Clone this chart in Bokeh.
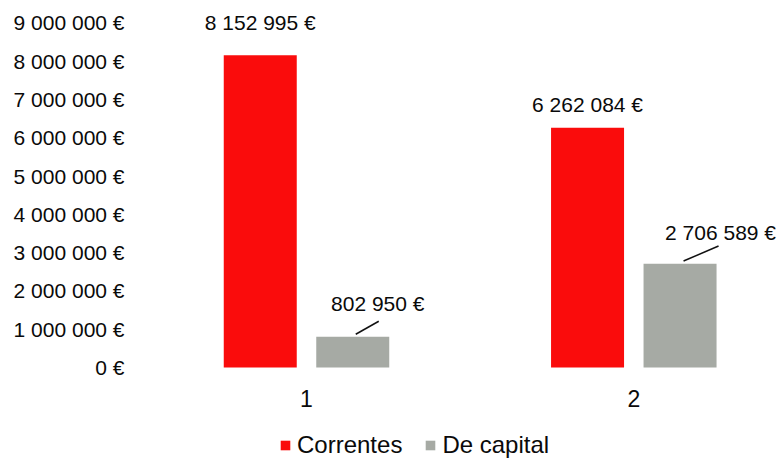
from bokeh.plotting import figure
from bokeh.models import FixedTicker, Range1d, ColumnDataSource, Legend, LegendItem
from bokeh.core.properties import value
from bokeh.embed import file_html
from bokeh.resources import INLINE

# ---- data ----
categories = ["1", "2"]
correntes = [8152995, 6262084]
de_capital = [802950, 2706589]
series_names = ["Correntes", "De capital"]
y_ticks = [0, 1000000, 2000000, 3000000, 4000000, 5000000, 6000000, 7000000, 8000000, 9000000]
y_tick_labels = ["0 €", "1 000 000 €", "2 000 000 €", "3 000 000 €", "4 000 000 €",
                 "5 000 000 €", "6 000 000 €", "7 000 000 €", "8 000 000 €", "9 000 000 €"]

# ---- style / layout ----
FONT = "Liberation Sans"
RED = "#FA0C0C"
GRAY = "#A6AAA4"
W, H = 779, 459
MB_LEFT, MB_RIGHT, MB_TOP, MB_BOTTOM = 140, 0, 12, 0
ZERO_PX_FROM_TOP = 355.0  # zero line distance from frame top
PX_PER_X = 327.3          # pixels per category step
PX_PER_Y = 38.3 / 1e6     # pixels per euro
FIRST_CENTER_PX = 166.0   # first category centre from frame left
frame_w = W - MB_LEFT - MB_RIGHT
frame_h = H - MB_TOP - MB_BOTTOM
x_start = 1 - FIRST_CENTER_PX / PX_PER_X
x_end = x_start + frame_w / PX_PER_X
y_end = ZERO_PX_FROM_TOP / PX_PER_Y
y_start = -(frame_h - ZERO_PX_FROM_TOP) / PX_PER_Y

BAR_W = 73 / PX_PER_X
OFFSET = 46.25 / PX_PER_X

def fmt(v):
    return f"{v:,}".replace(",", " ") + " €"

xs = [i + 1 for i in range(len(categories))]

p = figure(width=W, height=H, output_backend="svg", toolbar_location=None,
           x_range=Range1d(x_start, x_end), y_range=Range1d(y_start, y_end),
           min_border_left=MB_LEFT, min_border_right=MB_RIGHT,
           min_border_top=MB_TOP, min_border_bottom=MB_BOTTOM, x_axis_location=None)
p.outline_line_color = None
p.grid.visible = False
p.background_fill_color = "white"
p.border_fill_color = "white"

src_r = ColumnDataSource(dict(x=[x - OFFSET for x in xs], top=correntes))
src_g = ColumnDataSource(dict(x=[x + OFFSET for x in xs], top=de_capital))
r_red = p.vbar(x="x", top="top", width=BAR_W, source=src_r, fill_color=RED, line_color=None)
r_gray = p.vbar(x="x", top="top", width=BAR_W, source=src_g, fill_color=GRAY, line_color=None)

# data labels (pixel offsets relative to bar centre / top)
lab_dx_r = [0, 0]
lab_dy_r = [32.7, 23.2]
lab_dx_g = [25, 40.5]
lab_dy_g = [33.4, 31.8]
lx = [x - OFFSET + dx / PX_PER_X for x, dx in zip(xs, lab_dx_r)] + \
     [x + OFFSET + dx / PX_PER_X for x, dx in zip(xs, lab_dx_g)]
ly = [v + dy / PX_PER_Y for v, dy in zip(correntes, lab_dy_r)] + \
     [v + dy / PX_PER_Y for v, dy in zip(de_capital, lab_dy_g)]
lt = [fmt(v) for v in correntes] + [fmt(v) for v in de_capital]
p.text(x=lx, y=ly, text=lt, text_font=value(FONT), text_font_size="21px",
       text_align="center", text_baseline="middle", text_color="#0A0A0A")

# leader lines for gray labels
lead = [(3, 2.5, 26, 15.5), (3.5, 2.8, 38.5, 17.8)]
x0 = [x + OFFSET + a / PX_PER_X for x, (a, b, c, d) in zip(xs, lead)]
y0 = [v + b / PX_PER_Y for v, (a, b, c, d) in zip(de_capital, lead)]
x1 = [x + OFFSET + c / PX_PER_X for x, (a, b, c, d) in zip(xs, lead)]
y1 = [v + d / PX_PER_Y for v, (a, b, c, d) in zip(de_capital, lead)]
p.segment(x0=x0, y0=y0, x1=x1, y1=y1, line_color="#111111", line_width=1.5)

# category labels under the zero line
CAT_DY_PX = 31.0
p.text(x=xs, y=[-CAT_DY_PX / PX_PER_Y] * len(xs), text=categories, text_font=value(FONT),
       text_font_size="23px", text_align="center", text_baseline="middle", text_color="#0A0A0A")

# y axis
p.yaxis.ticker = FixedTicker(ticks=y_ticks)
p.yaxis.major_label_overrides = {t: l for t, l in zip(y_ticks, y_tick_labels)}
ax = p.yaxis[0]
ax.axis_line_color = None
ax.major_tick_line_color = None
ax.minor_tick_line_color = None
ax.major_tick_out = 0
ax.major_tick_in = 0
ax.minor_tick_out = 0
ax.major_label_text_font = FONT
ax.major_label_text_color = "#0A0A0A"
ax.major_label_text_font_size = "21px"
ax.major_label_standoff = 16

legend = Legend(items=[LegendItem(label=series_names[0], renderers=[r_red]),
                       LegendItem(label=series_names[1], renderers=[r_gray])],
                orientation="horizontal", location=(139, 0),
                label_text_font=FONT, label_text_font_size="24px", label_text_color="#0A0A0A",
                glyph_width=12, glyph_height=12, label_standoff=6, spacing=22,
                padding=0, margin=0, border_line_color=None, background_fill_alpha=0)
p.add_layout(legend, "center")

open("out.html", "w").write(file_html(p, INLINE))
